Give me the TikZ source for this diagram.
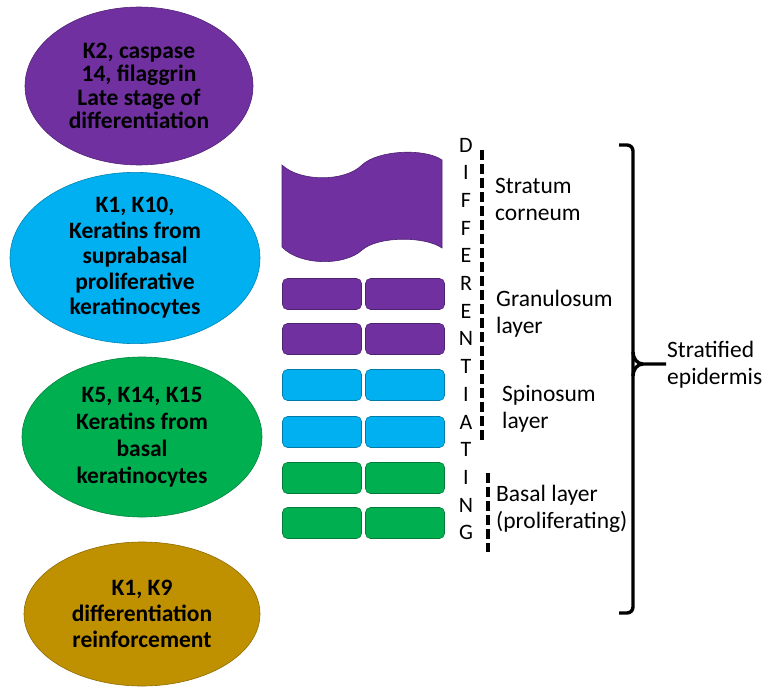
\documentclass[tikz,border=0pt]{standalone}
\usepackage{fontspec}
\setmainfont{Carlito}
\usepackage{tikz}
\usetikzlibrary{shapes.geometric, positioning, calc}
\usepackage{xcolor}
\definecolor{kerpurple}{HTML}{7030A0}
\definecolor{kercyan}{HTML}{00B0F0}
\definecolor{kergreen}{HTML}{00B050}
\definecolor{kergold}{HTML}{BF9000}
\definecolor{kerdark}{HTML}{000000}

\begin{document}
\begin{tikzpicture}[
  x=1pt, y=-1pt,
  keratin/.style={
    ellipse, inner sep=0pt, align=center,
    draw=#1!75!black, fill=#1, line width=0.6pt,
    font=\fontsize{23.5}{25}\selectfont\bfseries
  },
  cell/.style={
    rectangle, rounded corners=5pt, inner sep=0pt,
    minimum width=79pt, minimum height=31pt,
    draw=#1!70!black, fill=#1, line width=0.6pt
  },
  layerlabel/.style={
    anchor=west, inner sep=0pt, align=left,
    font=\fontsize{23.5}{27}\selectfont
  },
  letter/.style={inner sep=0pt, font=\fontsize{22}{22}\selectfont},
  guide/.style={line width=3.6pt, dash pattern=on 10pt off 4pt}
]
  \useasboundingbox (0,0) rectangle (765,693);

  % Keratin expression ellipses
  \node[keratin=kerpurple, minimum width=228pt, minimum height=158pt,
        font=\fontsize{23.5}{23.5}\selectfont\bfseries] (lateKer) at (139,86)
    {K2, caspase\\14, filaggrin\\Late stage of\\differentiation};
  \node[keratin=kercyan, minimum width=250pt, minimum height=158pt,
        font=\fontsize{23.5}{25.5}\selectfont\bfseries] (supraKer) at (135,258)
    {K1, K10,\\Keratins from\\suprabasal\\proliferative\\keratinocytes};
  \node[keratin=kergreen, minimum width=240pt, minimum height=160pt,
        font=\fontsize{23.5}{27}\selectfont\bfseries] (basalKer) at (142,437)
    {K5, K14, K15\\Keratins from\\basal\\keratinocytes};
  \node[keratin=kergold, minimum width=236pt, minimum height=144pt,
        font=\fontsize{23.5}{26}\selectfont\bfseries] (reinfKer) at (142,614)
    {K1, K9\\differentiation\\reinforcement};

  % Stratum corneum (wavy sheet)
  \draw[fill=kerpurple, draw=kerpurple!70!black, line width=0.6pt]
    (282,165) .. controls (300,182) and (345,182) .. (362,165)
              .. controls (378,150) and (425,148) .. (442,160)
    -- (442,248)
              .. controls (425,236) and (378,236) .. (362,250)
              .. controls (345,266) and (300,266) .. (282,247)
    -- cycle;

  % Cell rows
  \foreach \row/\ypos/\col in {1/294/kerpurple, 2/339/kerpurple,
                               3/385/kercyan, 4/432/kercyan,
                               5/478/kergreen, 6/523/kergreen} {
    \node[cell=\col] (cell-\row-a) at (322,\ypos) {};
    \node[cell=\col] (cell-\row-b) at (405,\ypos) {};
  }

  % Vertical word
  \foreach \ch [count=\i from 0] in {D,I,F,F,E,R,E,N,T,I,A,T,I,N,G}
    \node[letter] (ltr-\i) at (466,145+27.7*\i) {\ch};

  % Dashed guides
  \draw[guide] (482,150) -- (482,443);
  \draw[guide] (488,473) -- (488,552);

  % Layer labels
  \node[layerlabel] (corneumLbl) at (495,199) {Stratum\\corneum};
  \node[layerlabel] (granLbl) at (496,314) {Granulosum\\layer};
  \node[layerlabel] (spinLbl) at (502,409) {Spinosum\\layer};
  \node[layerlabel] (basalLbl) at (496,509) {Basal layer\\(proliferating)};

  % Bracket
  \coordinate (brTop) at (619,145);
  \coordinate (brBot) at (619,613);
  \coordinate (brTip) at (666,364);
  \draw[line width=3.4pt, rounded corners=6pt]
    (brTop) -- (633,145) -- (633,613) -- (brBot);
  \draw[line width=3.4pt] (633,352) to[out=-90, in=180] (643,364) -- (brTip);
  \draw[line width=3.4pt] (633,376) to[out=90, in=180] (643,364);
  \node[layerlabel] (epiLbl) at (667,365) {Stratified\\epidermis};
\end{tikzpicture}
\end{document}
